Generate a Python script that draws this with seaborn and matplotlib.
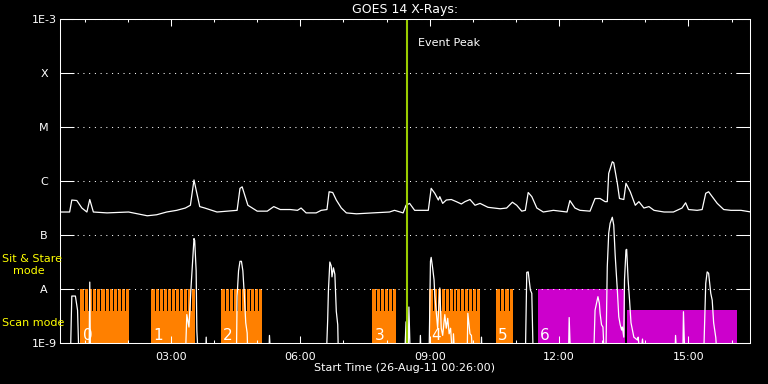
import pandas as pd
import seaborn as sns
import matplotlib.pyplot as plt
from matplotlib.ticker import FixedLocator, MultipleLocator, NullLocator, FuncFormatter

# GOES 14 long channel (1-8 A)
long_times = ['00:25', '00:39', '00:42', '00:49', '00:56', '01:03', '01:07', '01:12', '01:31', '02:01',
              '02:27', '02:40', '02:54', '03:08', '03:20', '03:27', '03:32', '03:35', '03:40', '03:47',
              '04:04', '04:32', '04:36', '04:39', '04:47', '05:00', '05:14', '05:23', '05:32', '05:46',
              '05:56', '06:01', '06:08', '06:22', '06:29', '06:37', '06:40', '06:45', '06:50', '06:57',
              '07:04', '07:18', '07:41', '08:04', '08:11', '08:23', '08:27', '08:32', '08:39', '08:51',
              '08:58', '09:02', '09:07', '09:12', '09:14', '09:18', '09:23', '09:30', '09:37', '09:44',
              '09:49', '09:56', '10:03', '10:10', '10:21', '10:38', '10:47', '10:55', '11:01', '11:08',
              '11:13', '11:17', '11:22', '11:29', '11:38', '11:52', '12:11', '12:15', '12:22', '12:29',
              '12:43', '12:50', '12:57', '13:04', '13:07', '13:09', '13:14', '13:16', '13:21', '13:24',
              '13:30', '13:33', '13:39', '13:46', '13:51', '13:58', '14:05', '14:12', '14:26', '14:39',
              '14:51', '14:56', '15:00', '15:12', '15:19', '15:24', '15:28', '15:33', '15:40', '15:49',
              '15:59', '16:13', '16:27']
long_flux = [2.7e-7, 2.7e-7, 4.5e-7, 4.4e-7, 3.2e-7, 2.7e-7, 4.6e-7, 2.7e-7, 2.6e-7, 2.7e-7,
             2.3e-7, 2.4e-7, 2.7e-7, 2.9e-7, 3.2e-7, 3.6e-7, 1.06e-6, 6.9e-7, 3.4e-7, 3.2e-7,
             2.7e-7, 2.9e-7, 7.4e-7, 7.9e-7, 3.6e-7, 2.8e-7, 2.8e-7, 3.4e-7, 3.0e-7, 3.0e-7,
             2.9e-7, 3.2e-7, 2.6e-7, 2.6e-7, 2.9e-7, 3.0e-7, 6.4e-7, 6.2e-7, 4.5e-7, 3.2e-7,
             2.6e-7, 2.5e-7, 2.6e-7, 2.7e-7, 2.9e-7, 2.6e-7, 3.6e-7, 3.9e-7, 2.9e-7, 2.9e-7,
             2.9e-7, 7.4e-7, 6.0e-7, 4.5e-7, 5.2e-7, 3.9e-7, 4.5e-7, 4.6e-7, 4.2e-7, 3.8e-7,
             4.2e-7, 4.6e-7, 3.6e-7, 3.9e-7, 3.3e-7, 3.1e-7, 3.2e-7, 4.1e-7, 3.6e-7, 2.8e-7,
             2.9e-7, 6.2e-7, 5.2e-7, 3.2e-7, 2.7e-7, 2.9e-7, 2.7e-7, 4.4e-7, 3.2e-7, 2.9e-7,
             2.8e-7, 4.8e-7, 4.8e-7, 4.2e-7, 4.2e-7, 1.4e-6, 2.3e-6, 2.2e-6, 9.2e-7, 4.8e-7,
             4.6e-7, 9.2e-7, 6.4e-7, 3.6e-7, 4.2e-7, 3.2e-7, 3.4e-7, 2.9e-7, 2.7e-7, 2.7e-7,
             3.2e-7, 4.0e-7, 3.0e-7, 2.9e-7, 3.0e-7, 6.0e-7, 6.4e-7, 5.2e-7, 3.9e-7, 3.0e-7,
             2.9e-7, 2.9e-7, 2.7e-7]

# short channel, mostly under 1E-9 (5e-10 = off the bottom)
short_times = ['00:26', '00:40', '00:42', '00:47', '00:50', '00:52', '01:06', '01:07', '01:08',
               '03:20', '03:22', '03:25', '03:28', '03:32', '03:33', '03:35', '03:36', '03:38',
               '03:48', '03:49', '03:50',
               '04:31', '04:32', '04:34', '04:36', '04:38', '04:40', '04:42', '04:44', '04:46', '04:47',
               '05:16', '05:17', '05:19',
               '06:36', '06:38', '06:39', '06:41', '06:43', '06:44', '06:46', '06:48', '06:50', '06:52', '06:53',
               '08:25', '08:27', '08:28', '08:30', '08:31', '08:33', '08:46', '08:47', '08:48',
               '08:59', '09:00', '09:01', '09:02', '09:04', '09:06', '09:07', '09:09', '09:11', '09:14',
               '09:16', '09:18', '09:21', '09:23', '09:25', '09:27', '09:29', '09:32', '09:33', '09:35',
               '09:52', '09:53', '09:56', '09:58', '10:00', '10:11', '10:12', '10:13',
               '11:13', '11:15', '11:17', '11:20', '11:22', '11:24',
               '12:13', '12:14', '12:16',
               '12:48', '12:50', '12:54', '12:56', '12:57', '12:59', '13:01', '13:03', '13:05',
               '13:07', '13:09', '13:11', '13:14', '13:16', '13:18', '13:21', '13:23', '13:25', '13:27',
               '13:28', '13:30', '13:31', '13:33', '13:34', '13:36', '13:38', '13:40', '13:44', '13:49',
               '13:50', '13:53', '13:56', '13:59',
               '14:41', '14:42', '14:44', '14:52', '14:53', '14:55',
               '15:21', '15:24', '15:26', '15:28', '15:31', '15:33', '15:35', '15:38', '15:40', '16:26']
short_flux = [5e-10, 5e-10, 7.5e-9, 7.5e-9, 4.1e-9, 5e-10, 5e-10, 1.36e-8, 5e-10,
              5e-10, 3.4e-9, 2.0e-9, 1.15e-8, 8.7e-8, 8.0e-8, 2.2e-8, 1.7e-9, 5e-10,
              5e-10, 1.3e-9, 5e-10,
              5e-10, 7.5e-9, 2.2e-8, 3.3e-8, 3.3e-8, 2.2e-8, 7.9e-9, 2.4e-9, 1.55e-9, 5e-10,
              5e-10, 1.4e-9, 5e-10,
              5e-10, 2.7e-9, 9.2e-9, 3.2e-8, 2.7e-8, 1.7e-8, 2.5e-8, 1.9e-8, 3.9e-9, 2.2e-9, 5e-10,
              5e-10, 2.5e-9, 5e-10, 5e-10, 4.7e-9, 5e-10, 5e-10, 1.4e-9, 5e-10,
              5e-10, 4.5e-9, 3.3e-8, 3.9e-8, 2.5e-8, 1.5e-8, 7.9e-9, 3.9e-9, 1.9e-9, 1.06e-8,
              1.9e-9, 1.4e-9, 3.4e-9, 1.9e-9, 2.9e-9, 1.5e-9, 1.9e-9, 5e-10, 1.5e-9, 5e-10,
              5e-10, 3.6e-9, 1.5e-9, 1.4e-9, 5e-10, 5e-10, 1.3e-9, 5e-10,
              5e-10, 2.06e-8, 2.1e-8, 9.7e-9, 8.4e-9, 5e-10,
              5e-10, 3.0e-9, 5e-10,
              5e-10, 4.1e-9, 7.3e-9, 5.5e-9, 3.6e-9, 2.2e-9, 2.0e-9, 5e-10, 5e-10,
              2.6e-8, 1.09e-7, 1.67e-7, 2.16e-7, 1.55e-7, 4.3e-8, 9.7e-9, 3.1e-9, 2.2e-9, 1.76e-9,
              2.0e-9, 1.3e-9, 1.5e-8, 5.35e-8, 5.5e-8, 1.5e-8, 6.3e-9, 2.4e-9, 1.3e-9, 1.15e-9,
              1.3e-9, 5e-10, 1.2e-9, 5e-10,
              5e-10, 1.4e-9, 5e-10, 5e-10, 3.85e-9, 5e-10,
              5e-10, 1.29e-8, 2.1e-8, 1.98e-8, 8.4e-9, 6.3e-9, 2.4e-9, 1.27e-9, 5e-10, 5e-10]

# observing mode blocks (orange = scan / sit & stare alternation)
scan_labels = ['0', '1', '2', '3', '4', '5']
scan_start = ['00:54', '02:32', '04:09', '07:40', '08:59', '10:32']
scan_end = ['02:01', '03:33', '05:07', '08:13', '10:10', '10:56']
# magenta blocks (label 6)
stare_start = ['11:31', '13:34']
stare_end = ['13:32', '16:08']
stare_top = [1e-8, 4.1e-9]

scan_level = 4.1e-9
stare_level = 1e-8
event_peak = '08:29'

y_ticks = [1e-9, 1e-8, 1e-7, 1e-6, 1e-5, 1e-4, 1e-3]
y_labels = ['1E-9', 'A', 'B', 'C', 'M', 'X', '1E-3']


def hrs(s):
    h, m = s.split(':')
    return int(h) + int(m) / 60.0


orange = '#ff8000'
magenta = '#cc00cc'
green = '#99cc00'
yellow = '#ffff00'

sns.set_theme(style='ticks', rc={
    'figure.facecolor': 'black', 'axes.facecolor': 'black',
    'axes.edgecolor': 'white', 'text.color': 'white',
    'xtick.color': 'white', 'ytick.color': 'white',
    'axes.labelcolor': 'white', 'axes.axisbelow': 'line',
})
plt.rcParams['font.family'] = ['DejaVu Sans']

fig = plt.figure(figsize=(7.68, 3.84), dpi=100)
ax = fig.add_axes([60.3 / 768, 1 - 343.3 / 384, 690 / 768, 324 / 384])

floor = 1e-10
cadence = 5.6 / 60.0   # sit & stare / scan switching, ~4 px per tooth
for lab, s, e in zip(scan_labels, scan_start, scan_end):
    x0, x1 = hrs(s), hrs(e)
    ax.bar(x0, stare_level - floor, bottom=floor, width=x1 - x0, align='edge',
           color=orange, lw=0, zorder=1, antialiased=False)
    n = int(round((x1 - x0) / cadence))
    step = (x1 - x0) / n
    cuts = [x0 + i * step for i in range(1, n)]
    ax.vlines(cuts, scan_level, stare_level, colors='black', lw=0.72,
              zorder=1.1, antialiased=False)
    ax.annotate(lab, xy=(x0, 0.01), xycoords=('data', 'axes fraction'),
                xytext=(1.5, 0), textcoords='offset points', ha='left', va='baseline',
                fontsize=11, color='white', zorder=4)

for s, e, top in zip(stare_start, stare_end, stare_top):
    ax.bar(hrs(s), top - floor, bottom=floor, width=hrs(e) - hrs(s), align='edge',
           color=magenta, lw=0, zorder=1, antialiased=False)
ax.annotate('6', xy=(hrs(stare_start[0]), 0.01), xycoords=('data', 'axes fraction'),
            xytext=(1.5, 0), textcoords='offset points', ha='left', va='baseline',
            fontsize=11, color='white', zorder=4)

df_long = pd.DataFrame({'hours': [hrs(t) for t in long_times], 'flux': long_flux})
df_short = pd.DataFrame({'hours': [hrs(t) for t in short_times], 'flux': short_flux})
sns.lineplot(data=df_long, x='hours', y='flux', color='white', lw=0.9,
             estimator=None, sort=False, ax=ax, zorder=3)
sns.lineplot(data=df_short, x='hours', y='flux', color='white', lw=0.9,
             estimator=None, sort=False, ax=ax, zorder=3)

ax.axvline(hrs(event_peak), color=green, lw=1.5, zorder=3.5)
ax.annotate('Event Peak', xy=(hrs(event_peak), 0.928), xycoords=('data', 'axes fraction'),
            xytext=(7.6, 0), textcoords='offset points', ha='left', va='center',
            fontsize=8, color='white')

ax.set_yscale('log')
ax.set_ylim(1e-9, 1e-3)
ax.set_xlim(hrs('00:26'), hrs('16:26'))
ax.set_xlabel('')
ax.set_ylabel('')

ax.yaxis.set_major_locator(FixedLocator(y_ticks))
ax.yaxis.set_minor_locator(NullLocator())
ax.set_yticklabels(y_labels)
ax.xaxis.set_major_locator(MultipleLocator(3))
ax.xaxis.set_minor_locator(MultipleLocator(1))
ax.xaxis.set_major_formatter(FuncFormatter(lambda v, p: '%02d:00' % int(round(v))))

ax.tick_params(axis='x', which='major', direction='in', length=4.8, width=0.75,
               top=True, bottom=True, labelsize=8, pad=6)
ax.tick_params(axis='x', which='minor', direction='in', length=2.4, width=0.75,
               top=True, bottom=True)
ax.tick_params(axis='y', which='major', direction='in', length=10, width=0.75,
               left=True, right=True, labelsize=8, pad=11.7)
for lab in ax.get_yticklabels():
    lab.set_horizontalalignment('center')

ax.grid(axis='y', which='major', color='white', lw=0.75, linestyle=(0, (1, 4.5)))
ax.grid(axis='x', visible=False)
for sp in ax.spines.values():
    sp.set_color('white')
    sp.set_linewidth(0.75)
    sp.set_zorder(5)

fig.text(405 / 768, 1 - 9.5 / 384, 'GOES 14 X-Rays:', ha='center', va='center', fontsize=9)
fig.text(405 / 768, 1 - 368 / 384, 'Start Time (26-Aug-11 00:26:00)', ha='center',
         va='center', fontsize=8)
fig.text(2 / 768, 1 - 259 / 384, 'Sit & Stare', color=yellow, ha='left', va='center', fontsize=8)
fig.text(13 / 768, 1 - 271 / 384, 'mode', color=yellow, ha='left', va='center', fontsize=8)
fig.text(2 / 768, 1 - 323 / 384, 'Scan mode', color=yellow, ha='left', va='center', fontsize=8)

fig.savefig('out.png', dpi=100, facecolor='black')
